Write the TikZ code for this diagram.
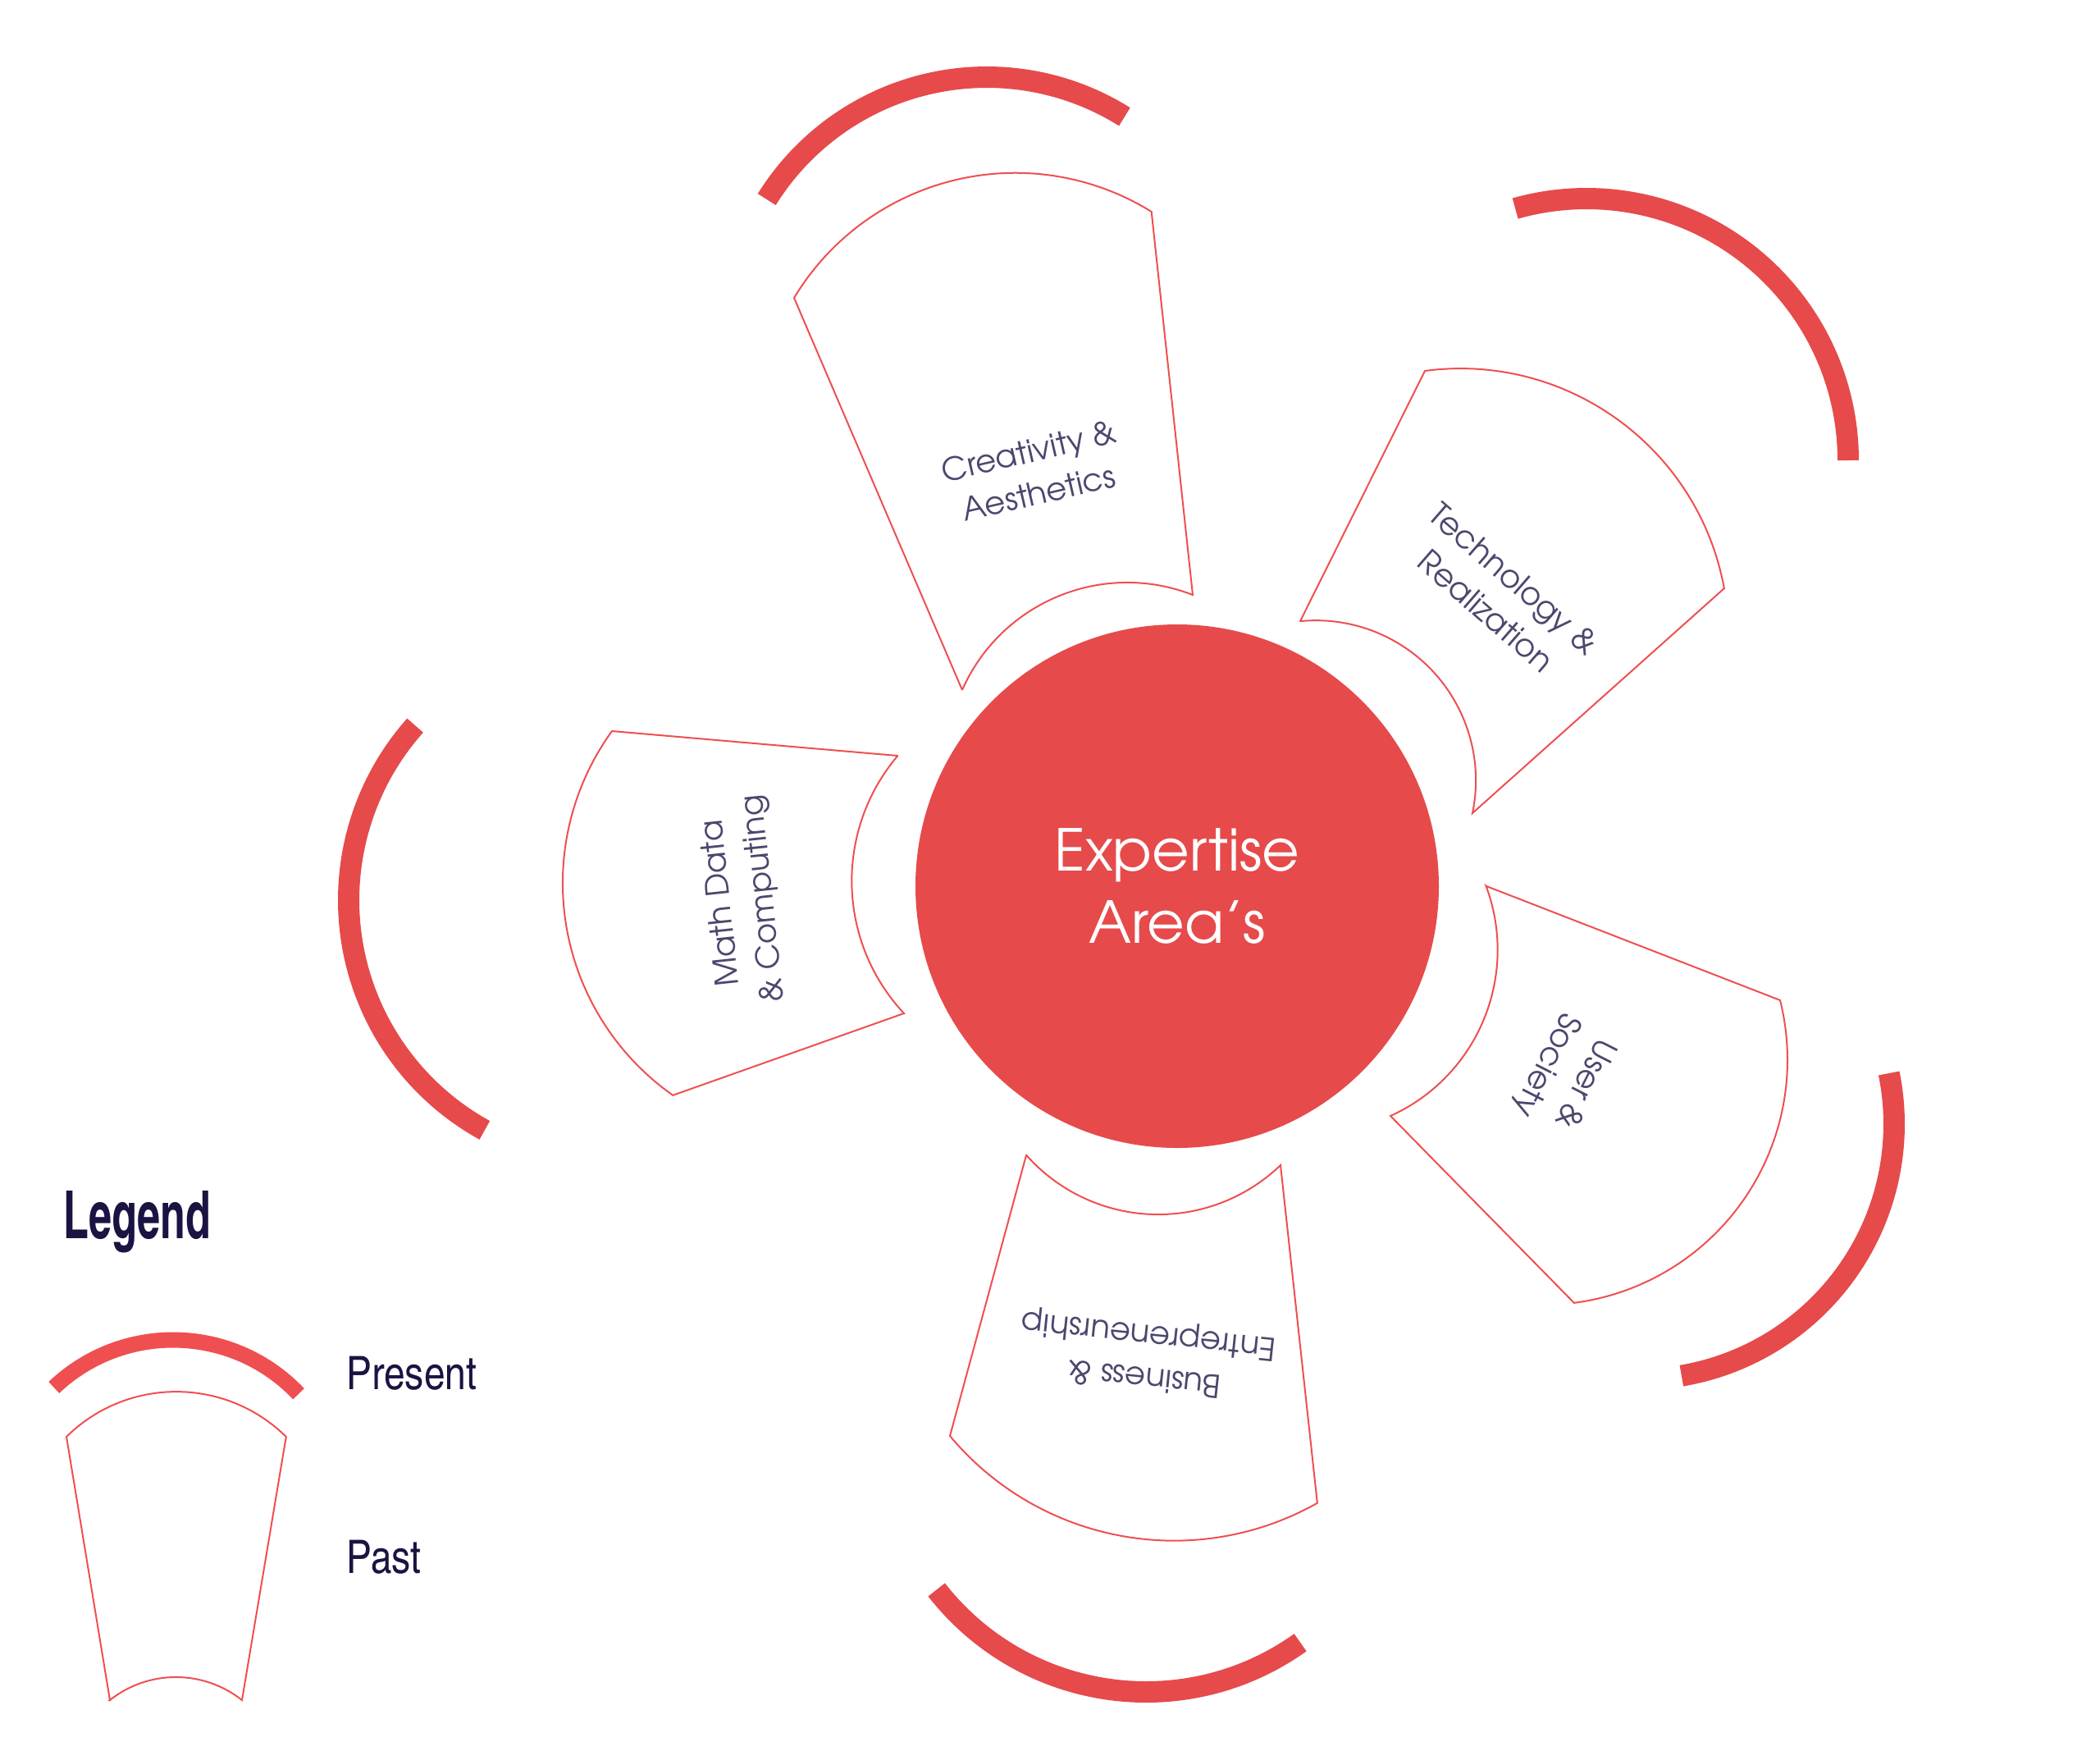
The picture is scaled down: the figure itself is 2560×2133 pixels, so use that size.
\documentclass[tikz,border=0pt]{standalone}
\usepackage{fontspec}
\usepackage{graphicx}
\setmainfont{TeX Gyre Adventor}
\newfontfamily\legendfont{TeX Gyre Heros Cn}
\definecolor{coral}{HTML}{E64A4B}
\definecolor{coralline}{HTML}{EF4F50}
\definecolor{slate}{HTML}{4B486E}
\definecolor{navy}{HTML}{1A1442}

\begin{document}
\begin{tikzpicture}[
	x=0.1mm,
	y=0.1mm,
	petal/.style={
		draw=coralline,
		line width=0.2mm
		},
	present/.style={
		draw=coral,
		line width=2.6mm
	},
	area/.style={
		text=slate,
		align=center,
		font=\fontsize{11}{14.8}\selectfont
	},
	hub/.style={
		circle,
		fill=coral,
		text=white,
		align=center,
		inner sep=0pt,
		minimum size=63.8mm,
		font=\fontsize{20}{25.3}\selectfont
	},
	key/.style={
		text=navy,
		anchor=base west,
		inner sep=0pt,
		font=\legendfont\fontsize{16}{16}\selectfont
	}
]
\useasboundingbox (0,0) rectangle (2560,-2133);

% Centre
\node [hub] (Hub) at (1435,-1080) {Expertise\\Area’s};

% Past areas
\draw [petal] (1173,-841) -- (968,-363) arc[start angle=148.9, end angle=58.2, radius=315]
	-- (1454,-725) arc[start angle=68.7, end angle=156.1, radius=220] -- cycle;
\draw [petal] (1585,-757) -- (1737,-452) arc[start angle=97.6, end angle=10.4, radius=327]
	-- (1795,-991) arc[start angle=-11.8, end angle=95.6, radius=195] -- cycle;
\draw [petal] (1812,-1080) -- (2170,-1219) arc[start angle=14.1, end angle=-82.6, radius=298.6]
	-- (1695,-1360) arc[start angle=-65.7, end angle=20.6, radius=222] -- cycle;
\draw [petal] (1251,-1408) -- (1158,-1750) arc[start angle=-140.1, end angle=-60.6, radius=356]
	-- (1561,-1420) arc[start angle=-46.1, end angle=-138.4, radius=215] -- cycle;
\draw [petal] (1094,-921) -- (746,-891) arc[start angle=144.1, end angle=234.9, radius=316]
	-- (1102,-1235) arc[start angle=223.1, end angle=139.8, radius=236] -- cycle;

% Labels
\node [area, rotate=13] (Creativity) at (1260,-575) {Creativity \&\\Aesthetics};
\node [area, rotate=-41] (Technology) at (1829,-725) {Technology \&\\Realization};
\node [area, rotate=-117] (User) at (1908,-1309) {User \&\\Society};
\node [area, rotate=174] (Business) at (1398,-1652) {Business \&\\Entrepreneurship};
\node [area, rotate=96] (Math) at (906,-1098) {Math Data\\\& Computing};

% Present areas
\coordinate (Creativity arc) at (1203,-410);
\coordinate (Technology arc) at (1934,-561);
\coordinate (User arc) at (1998,-1370);
\coordinate (Business arc) at (1397,-1738);
\coordinate (Math arc) at (745,-1097);
\draw [present] (Creativity arc) ++(57.9:316) arc[start angle=57.9, end angle=148.1, radius=316];
\draw [present] (Technology arc) ++(0:319) arc[start angle=0, end angle=105.8, radius=319];
\draw [present] (User arc) ++(-80.4:311) arc[start angle=-80.4, end angle=11.5, radius=311];
\draw [present] (Business arc) ++(-142:324) arc[start angle=-142, end angle=-54.5, radius=324];
\draw [present] (Math arc) ++(138.3:320) arc[start angle=138.3, end angle=241.2, radius=320];

% Legend
\node [key, font=\legendfont\bfseries\fontsize{23}{23}\selectfont] (Legend) at (77,-1509) {\scalebox{0.76}[1]{Legend}};
\coordinate (Key arc) at (211,-1844);
\draw [present, draw=coralline, line width=1.9mm] (Key arc) ++(43.5:211) arc[start angle=43.5, end angle=133.5, radius=211];
\draw [petal] (134,-2072) -- (81,-1751) arc[start angle=134.6, end angle=45.4, radius=190.7]
	-- (295,-2072) arc[start angle=51.6, end angle=128.4, radius=129.7] -- cycle;
\node [key] (Present) at (422,-1693) {Present};
\node [key] (Past) at (422,-1917) {Past};

\end{tikzpicture}
\end{document}
